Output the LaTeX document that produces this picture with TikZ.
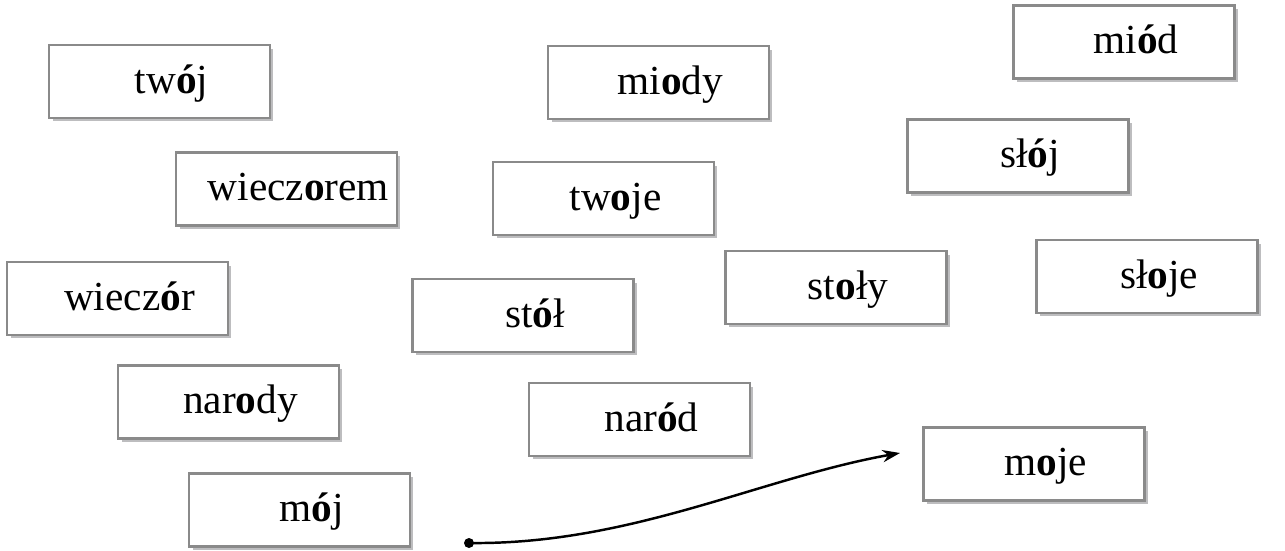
\documentclass[tikz,border=0pt]{standalone}
\usepackage{fontspec}
\setmainfont{Liberation Serif}
\usepackage{tikz}
\usetikzlibrary{arrows.meta,shadows}
\definecolor{edge}{HTML}{8A8A8A}
\definecolor{shade}{HTML}{BDBDBF}

\tikzset{word/.style={draw=edge,line width=1.3pt,fill=white,minimum width=4.42cm,minimum height=1.46cm,
  font=\fontsize{23.5}{28}\selectfont,inner sep=0pt,text height=18.8pt,text depth=5.2pt,
  execute at begin node={\hspace*{0.48cm}},
  drop shadow={shadow xshift=0.07cm,shadow yshift=-0.07cm,fill=shade,opacity=1}}}

\begin{document}
\begin{tikzpicture}[x=0.02cm,y=-0.02cm]
\useasboundingbox (0,0) rectangle (1285,551);
\node[word] (twoj) at (159.5,81.5) {tw\textbf{ó}j};
\node[word] (miody) at (658.5,82.5) {mi\textbf{o}dy};
\node[word] (miod) at (1124,42) {mi\textbf{ó}d};
\node[word] (wieczorem) at (286.5,189) {wiecz\textbf{o}rem};
\node[word] (twoje) at (603.5,198.5) {tw\textbf{o}je};
\node[word] (sloj) at (1018,156) {sł\textbf{ó}j};
\node[word] (wieczor) at (117.5,298.5) {wiecz\textbf{ó}r};
\node[word] (stol) at (523,315.5) {st\textbf{ó}ł};
\node[word] (stoly) at (836,287.5) {st\textbf{o}ły};
\node[word] (sloje) at (1147,276.5) {sł\textbf{o}je};
\node[word] (narody) at (228.5,402) {nar\textbf{o}dy};
\node[word] (narod) at (639.5,419.5) {nar\textbf{ó}d};
\node[word] (moje) at (1034,464) {m\textbf{o}je};
\node[word] (moj) at (299.5,510) {m\textbf{ó}j};
% arrow from moj to moje
\coordinate (start) at (469,543);
\coordinate (tip) at (900,453);
\fill (start) circle (5);
\draw[line width=1.4pt,-{Stealth[length=10pt,width=7pt]}] (start) .. controls (630,545) and (760,478) .. (tip);
\end{tikzpicture}
\end{document}
